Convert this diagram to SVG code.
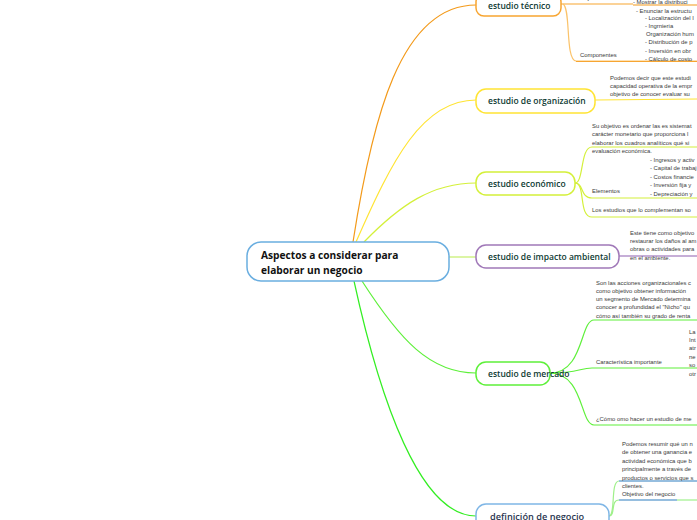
<svg xmlns="http://www.w3.org/2000/svg" width="697" height="520" viewBox="0 0 697 520">
<style>
.node{fill:#fff;stroke-width:1.5}
.nt{font-family:"Open Sans","Noto Sans",sans-serif;font-weight:600;font-size:8.5px;fill:#0e3b33}
.ct{font-family:"Open Sans","Noto Sans",sans-serif;font-weight:700;font-size:10.2px;fill:#111}
.st{font-family:"Liberation Sans",Arial,sans-serif;font-size:5.9px;fill:#3a3a3a}
.c{fill:none;stroke-width:1.2}
</style>
<rect width="697" height="520" fill="#fff"/>
<g id="connectors">
<path class="c" d="M353,242 C372,120 400,5 476,5" stroke="#f39a1a" stroke-width="2"/>
<path class="c" d="M356,242 C392,160 422,100 476,100" stroke="#ffe433"/>
<path class="c" d="M364,242 C400,205 432,183 476,183" stroke="#d4f03a"/>
<path class="c" d="M449,257 L476,257" stroke="#c5ef6a"/>
<path class="c" d="M362,281 C400,340 430,373 476,373" stroke="#5ef03a"/>
<path class="c" d="M354,281 C380,400 420,516 476,516" stroke="#33ee22" stroke-width="2"/>
<path class="c" d="M561,4 L633,4" stroke="#f7a531" stroke-width="1.5"/>
<path class="c" d="M633,5 L697,5" stroke="#f39a1a" stroke-width="1.5"/>
<path class="c" d="M563,4 C571,8 565,60 576,61 L697,61" stroke="#fbc36a"/>
<path class="c" d="M576,61.5 L697,61.5" stroke="#f7a531" stroke-width="1.2"/>
<path class="c" d="M595,100 L697,99" stroke="#ffe433" stroke-width="2"/>
<path class="c" d="M575,183 C584,183 580,147 592,147 L697,147" stroke="#d4f03a" stroke-width="1.5"/>
<path class="c" d="M575,183 C584,183 580,198 592,198 L697,198" stroke="#d4f03a" stroke-width="1.5"/>
<path class="c" d="M575,183 C586,183 578,217 592,217 L697,217" stroke="#d4f03a" stroke-width="1.5"/>
<path class="c" d="M619,256 L697,256" stroke="#8e5fb0" stroke-width="1.5"/>
<path class="c" d="M550,373 C584,373 580,320 594,320 L697,320" stroke="#5ef03a" stroke-width="1.5"/>
<path class="c" d="M550,373 C578,373 580,368 592,368 L697,368" stroke="#5ef03a" stroke-width="1.5"/>
<path class="c" d="M550,373 C584,373 580,425 594,425 L697,425" stroke="#5ef03a" stroke-width="1.5"/>
<path class="c" d="M609,516 C616,516 610,481 619,481" stroke="#9ff08a"/>
<path class="c" d="M619,481 L697,481" stroke="#2f7fc0" stroke-width="1.3"/>
<path class="c" d="M609,516 C616,516 610,500 619,500" stroke="#9ff08a"/>
<path class="c" d="M619,500 L677,500" stroke="#2f7fc0" stroke-width="1.3"/>
<path class="c" d="M677,500 L697,500" stroke="#9ff08a" stroke-width="1.3"/>
</g>
<g id="central">
<rect class="node" x="247" y="242" width="202" height="39" rx="14" stroke="#6aaee0"/>
<text class="ct" x="261" y="259">Aspectos a considerar para</text>
<text class="ct" x="261" y="274">elaborar un negocio</text>
</g>
<g id="tecnico">
<rect class="node" x="476" y="-6" width="85" height="22" rx="8" stroke="#f7a531"/>
<text class="nt" x="488" y="9">estudio técnico</text>
<text class="st" x="580" y="0">Objetivos</text>
<text class="st" x="633" y="4">- Mostrar la distribuci</text>
<text class="st" x="636" y="13">- Enunciar la estructu</text>
<text class="st" x="645" y="20">- Localización del I</text>
<text class="st" x="645" y="27.5">- Ingrnieria</text>
<text class="st" x="646" y="36">Organización hum</text>
<text class="st" x="645" y="44">- Distribución de p</text>
<text class="st" x="645" y="53">- Inversión en obr</text>
<text class="st" x="645" y="61">- Cálculo de costo</text>
<text class="st" x="580" y="57">Componentes</text>
</g>
<g id="organizacion">
<rect class="node" x="476" y="89" width="119" height="24" rx="10" stroke="#ffe433"/>
<text class="nt" x="488" y="104">estudio de organización</text>
<text class="st" x="610" y="80">Podemos decir que este estudi</text>
<text class="st" x="610" y="88">capacidad operativa de la empr</text>
<text class="st" x="610" y="96">objetivo de conocer evaluar su</text>
</g>
<g id="economico">
<rect class="node" x="476" y="172" width="99" height="23" rx="10" stroke="#d4f03a"/>
<text class="nt" x="488" y="187">estudio económico</text>
<text class="st" x="592" y="128">Su objetivo es ordenar las es sistemat</text>
<text class="st" x="592" y="136">carácter monetario que proporciona l</text>
<text class="st" x="592" y="145">elaborar los cuadros analíticos qué si</text>
<text class="st" x="592" y="153">evaluación económica.</text>
<text class="st" x="650" y="162">- Ingresos y activ</text>
<text class="st" x="650" y="170">- Capital de trabaj</text>
<text class="st" x="650" y="179">- Costos financie</text>
<text class="st" x="650" y="187">- Inversión fija  y</text>
<text class="st" x="650" y="196">- Depreciación y</text>
<text class="st" x="592" y="193">Elementos</text>
<text class="st" x="592" y="212">Los estudios que lo complementan so</text>
</g>
<g id="impacto">
<rect class="node" x="476" y="245" width="143" height="23" rx="10" stroke="#a078b8"/>
<text class="nt" x="488" y="260">estudio de impacto ambiental</text>
<text class="st" x="630" y="235">Este tiene como objetivo</text>
<text class="st" x="630" y="243">restaurar los daños al am</text>
<text class="st" x="630" y="251">obras o actividades para</text>
<text class="st" x="630" y="260">en el ambiente.</text>
</g>
<g id="mercado">
<rect class="node" x="476" y="362" width="74" height="23" rx="10" stroke="#5ef03a"/>
<text class="nt" x="488" y="377">estudio de mercado</text>
<text class="st" x="596" y="285">Son las acciones  organizacionales c</text>
<text class="st" x="596" y="293">como objetivo obtener información</text>
<text class="st" x="596" y="301">un segmento de Mercado determina</text>
<text class="st" x="596" y="309">conocer a profundidad el "Nicho" qu</text>
<text class="st" x="596" y="317.5">cómo así también su grado de renta</text>
<text class="st" x="596" y="364">Característica importante</text>
<text class="st" x="689" y="334">La</text>
<text class="st" x="689" y="342">Int</text>
<text class="st" x="689" y="350">atr</text>
<text class="st" x="689" y="359">ne</text>
<text class="st" x="689" y="367">so</text>
<text class="st" x="689" y="376">otr</text>
<text class="st" x="596" y="421">¿Cómo omo hacer un estudio de me</text>
</g>
<g id="definicion">
<rect class="node" x="476" y="504" width="133" height="28" rx="10" stroke="#7fb6e6"/>
<text class="nt" x="490" y="520" style="fill:#2a3550;font-size:9.2px">definición de negocio</text>
<text class="st" x="622" y="446">Podemos resumir qué un n</text>
<text class="st" x="622" y="454">de obtener una ganancia e</text>
<text class="st" x="622" y="463">actividad económica que b</text>
<text class="st" x="622" y="471">principalmente a través de</text>
<text class="st" x="622" y="480">productos o servicios que s</text>
<text class="st" x="622" y="488">clientes.</text>
<text class="st" x="622" y="496">Objetivo del negocio</text>
</g>
</svg>
